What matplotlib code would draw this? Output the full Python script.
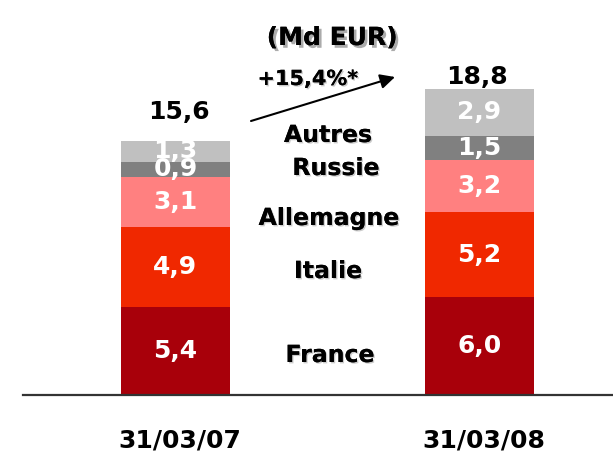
import matplotlib
matplotlib.use('Agg')
import matplotlib.pyplot as plt
import matplotlib.patheffects as pe
import numpy as np

# Data (Md EUR)
dates = ['31/03/07', '31/03/08']
segments = ['France', 'Italie', 'Allemagne', 'Russie', 'Autres']
values = {
    'France':    [5.4, 6.0],
    'Italie':    [4.9, 5.2],
    'Allemagne': [3.1, 3.2],
    'Russie':    [0.9, 1.5],
    'Autres':    [1.3, 2.9],
}
totals = ['15,6', '18,8']
growth = '+15,4%*'
colors = {
    'France': '#A8000A',
    'Italie': '#F02800',
    'Allemagne': '#FF8080',
    'Russie': '#808080',
    'Autres': '#C0C0C0',
}

plt.rcParams['font.family'] = ['DejaVu Sans']
plt.rcParams['font.weight'] = 'bold'

W, H = 613, 453
fig = plt.figure(figsize=(W / 100, H / 100), dpi=100)
ax = fig.add_axes([0, 0, 1, 1])

# pixel layout -> data coords
PX_UNIT = 16.3      # pixels per Md EUR
BASE = 395          # baseline pixel row
X0, DX = 175.5, 304  # first bar centre, spacing in px

def px2x(px):
    return (px - X0) / DX

def py2y(py):
    return (BASE - py) / PX_UNIT

ax.set_xlim(px2x(0), px2x(W))
ax.set_ylim(py2y(H), py2y(0))
ax.axis('off')

x = np.arange(len(dates))
bottom = np.zeros(len(dates))
for seg in segments:
    vals = np.array(values[seg])
    ax.bar(x, vals, bottom=bottom, width=109 / DX, color=colors[seg], linewidth=0)
    for xi, b, v in zip(x, bottom, vals):
        ax.text(xi, b + v / 2, f'{v:.1f}'.replace('.', ','), ha='center', va='center',
                color='white', fontsize=18, fontweight='bold')
    bottom += vals

# baseline
ax.axhline(0, xmin=23 / W, xmax=1, color='#333333', lw=1.6)

# totals above bars
for xi, t, off in zip(x, totals, [3.5, -2.5]):
    ax.text(xi + px2x(X0 + off), py2y(119 if xi == 0 else 84), t, ha='center',
            va='baseline', fontsize=18, fontweight='bold', color='black')

# category labels
for xi, d in zip(x, dates):
    ax.text(xi + px2x(X0 + 4), py2y(448), d, ha='center', va='baseline',
            fontsize=18, fontweight='bold', color='black')

# segment names in the middle
seg_pos = {
    'Autres': (328, 142),
    'Russie': (336, 175),
    'Allemagne': (329, 225),
    'Italie': (328, 278),
    'France': (330, 362),
}
shadow = [pe.withSimplePatchShadow(offset=(1, -1), shadow_rgbFace='#999999', alpha=0.5), pe.Normal()]
for seg, (px, py) in seg_pos.items():
    ax.text(px2x(px), py2y(py), seg, ha='center', va='baseline', fontsize=17,
            fontweight='bold', color='black', path_effects=shadow)

# unit title
ax.text(px2x(332), py2y(45), '(Md EUR)', ha='center', va='baseline', fontsize=18,
        fontweight='bold', color='black',
        path_effects=[pe.withSimplePatchShadow(offset=(2, -2), shadow_rgbFace='#888888', alpha=0.7),
                      pe.Normal()])

# growth arrow
ax.text(px2x(308), py2y(85), growth, ha='center', va='baseline', fontsize=15,
        fontweight='bold', color='black', path_effects=shadow)
ax.annotate('', xy=(px2x(395), py2y(77)), xytext=(px2x(251), py2y(121)),
            arrowprops=dict(arrowstyle='-|>', mutation_scale=22, lw=1.5, color='black',
                            shrinkA=0, shrinkB=0))

fig.savefig('out.png', dpi=100)
